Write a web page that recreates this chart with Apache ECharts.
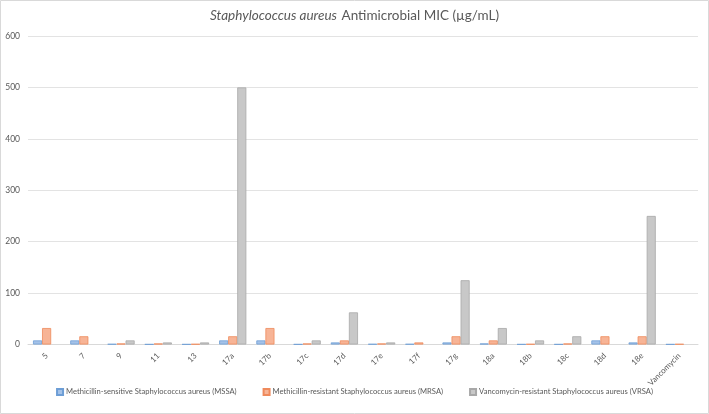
<!DOCTYPE html>
<html><head><meta charset="utf-8">
<script src="https://cdn.jsdelivr.net/npm/echarts@6/dist/echarts.min.js"></script>
<style>html,body{margin:0;padding:0;background:#fff}#c{width:709px;height:414px}</style>
</head><body><div id="c"></div>
<script>
var categories = ['5','7','9','11','13','17a','17b','17c','17d','17e','17f','17g','18a','18b','18c','18d','18e','Vancomycin'];
var mssa = [8,8,1,0.5,0.5,8,8,0.5,4,1,1,4,2,0.5,0.5,8,4,0.5];
var mrsa = [32,16,2,2,1,16,32,2,8,2,4,16,8,1,2,16,16,1];
var vrsa = [null,null,8,4,4,500,null,8,62.5,4,null,125,32,8,16,null,250,null];
var yTicks = [0,100,200,300,400,500,600];
var seriesNames = ['Methicillin-sensitive Staphylococcus aureus (MSSA)','Methicillin-resistant Staphylococcus aureus (MRSA)','Vancomycin-resistant Staphylococcus aureus (VRSA)'];

var FONT = "Lato,'Liberation Sans',sans-serif";
var chart = echarts.init(document.getElementById('c'));
function bar(name, data, fill, border){
  return {name:name,type:'bar',data:data,barGap:'0%',barCategoryGap:'27%',
    itemStyle:{color:fill,borderColor:border,borderWidth:0.8}};
}
chart.setOption({
  animation:false,
  textStyle:{fontFamily:FONT},
  graphic:[{type:'rect',shape:{x:0.5,y:0.5,width:708,height:413},style:{fill:null,stroke:'#d9d9d9',lineWidth:1},silent:true}],
  title:{left:'center',top:2,
    text:'{i|Staphylococcus aureus} {n|Antimicrobial MIC (µg/mL)}',
    textStyle:{fontWeight:'normal',rich:{
      i:{fontStyle:'italic',fontWeight:'normal',fontSize:13.5,color:'#595959',fontFamily:FONT},
      n:{fontWeight:'normal',fontSize:13.5,color:'#595959',fontFamily:FONT}}}},
  legend:{bottom:13,left:'center',width:705,itemWidth:6,itemHeight:6,itemGap:26,icon:'rect',
    textStyle:{fontSize:7.6,color:'#595959',fontFamily:FONT,padding:[0,0,0,-2]},data:seriesNames},
  grid:{left:28,right:11,top:36,bottom:69.5,containLabel:false},
  xAxis:{type:'category',data:categories,
    axisLine:{lineStyle:{color:'#d9d9d9'}},axisTick:{show:false},
    axisLabel:{rotate:45,interval:0,fontSize:8,color:'#595959',margin:10,fontFamily:FONT}},
  yAxis:{type:'value',min:yTicks[0],max:yTicks[yTicks.length-1],interval:100,
    axisLine:{show:false},axisTick:{show:false},
    axisLabel:{fontSize:8.5,color:'#595959',margin:8,fontFamily:FONT},
    splitLine:{lineStyle:{color:'#e3e3e3'}}},
  series:[
    bar(seriesNames[0], mssa, '#a4c2e8', '#6d9ed6'),
    bar(seriesNames[1], mrsa, '#f7b496', '#ef8a5c'),
    bar(seriesNames[2], vrsa, '#c8c8c8', '#a8a8a8')
  ]
});
</script></body></html>
